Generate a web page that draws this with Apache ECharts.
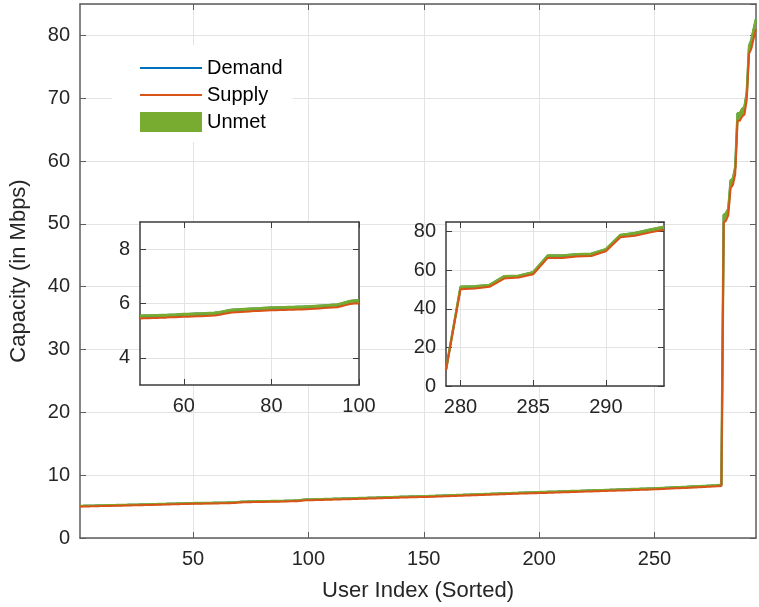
<!DOCTYPE html>
<html><head><meta charset="utf-8">
<script src="https://cdn.jsdelivr.net/npm/echarts@6/dist/echarts.min.js"></script>
<style>html,body{margin:0;padding:0;background:#fff}#c{width:759px;height:607px}</style>
</head><body><div id="c"></div>
<script>
// Demand per user (sorted), users 1..294
const demand = [
5.10,5.11,5.12,5.13,5.13,5.14,5.15,5.16,5.17,5.18,
5.19,5.20,5.20,5.21,5.22,5.23,5.24,5.25,5.25,5.26,
5.27,5.28,5.29,5.30,5.31,5.31,5.32,5.33,5.34,5.35,
5.36,5.37,5.38,5.39,5.40,5.41,5.42,5.43,5.44,5.45,
5.46,5.47,5.48,5.49,5.50,5.51,5.52,5.53,5.54,5.55,
5.56,5.56,5.57,5.57,5.58,5.58,5.59,5.59,5.60,5.61,
5.61,5.62,5.63,5.63,5.64,5.65,5.66,5.68,5.71,5.74,
5.77,5.78,5.79,5.80,5.81,5.82,5.82,5.83,5.84,5.85,
5.85,5.86,5.86,5.87,5.87,5.88,5.88,5.89,5.90,5.91,
5.92,5.93,5.94,5.95,5.96,6.00,6.05,6.09,6.11,6.12,
6.13,6.14,6.15,6.16,6.17,6.18,6.19,6.20,6.21,6.22,
6.23,6.24,6.25,6.26,6.27,6.28,6.29,6.30,6.31,6.33,
6.34,6.35,6.36,6.37,6.38,6.39,6.40,6.41,6.42,6.44,
6.45,6.46,6.47,6.48,6.49,6.50,6.51,6.53,6.54,6.55,
6.56,6.57,6.58,6.59,6.60,6.61,6.62,6.63,6.64,6.65,
6.66,6.67,6.69,6.70,6.71,6.73,6.74,6.75,6.77,6.78,
6.79,6.81,6.82,6.83,6.85,6.86,6.87,6.89,6.90,6.91,
6.93,6.94,6.95,6.97,6.98,6.99,7.01,7.02,7.03,7.05,
7.06,7.07,7.09,7.10,7.11,7.13,7.14,7.15,7.17,7.18,
7.19,7.21,7.22,7.23,7.24,7.25,7.26,7.27,7.28,7.30,
7.31,7.32,7.33,7.35,7.36,7.37,7.38,7.39,7.41,7.42,
7.43,7.44,7.45,7.47,7.48,7.49,7.50,7.51,7.53,7.54,
7.55,7.56,7.57,7.59,7.60,7.61,7.62,7.63,7.65,7.66,
7.67,7.68,7.69,7.71,7.72,7.73,7.74,7.75,7.77,7.78,
7.79,7.80,7.81,7.83,7.84,7.85,7.86,7.87,7.89,7.90,
7.92,7.93,7.95,7.97,7.99,8.00,8.02,8.04,8.06,8.07,
8.09,8.11,8.13,8.14,8.16,8.18,8.20,8.22,8.23,8.25,
8.27,8.29,8.31,8.33,8.35,8.37,8.39,8.42,8.45,
51.4,51.7,52.4,56.9,57.2,59.0,67.6,67.6,68.3,68.6,70.9,78.3,79.3,81.0,82.6
];
// Supply per user (sorted), users 1..294
const supply = [
5.00,5.01,5.02,5.03,5.03,5.04,5.05,5.06,5.07,5.08,
5.09,5.10,5.10,5.11,5.12,5.13,5.14,5.15,5.15,5.16,
5.17,5.18,5.19,5.20,5.21,5.21,5.22,5.23,5.24,5.25,
5.26,5.27,5.28,5.29,5.30,5.31,5.32,5.33,5.34,5.35,
5.36,5.37,5.38,5.39,5.40,5.41,5.42,5.43,5.44,5.45,
5.46,5.46,5.47,5.47,5.48,5.48,5.49,5.49,5.50,5.51,
5.51,5.52,5.53,5.53,5.54,5.55,5.56,5.58,5.61,5.64,
5.67,5.68,5.69,5.70,5.71,5.72,5.72,5.73,5.74,5.75,
5.75,5.76,5.76,5.77,5.77,5.78,5.78,5.79,5.80,5.81,
5.82,5.83,5.84,5.85,5.86,5.90,5.94,5.98,6.00,6.00,
6.01,6.02,6.03,6.04,6.05,6.06,6.07,6.08,6.09,6.10,
6.11,6.12,6.13,6.14,6.15,6.16,6.17,6.18,6.19,6.21,
6.22,6.23,6.24,6.25,6.26,6.27,6.28,6.29,6.30,6.32,
6.33,6.34,6.35,6.36,6.37,6.38,6.39,6.41,6.42,6.43,
6.44,6.45,6.46,6.47,6.48,6.49,6.50,6.51,6.52,6.53,
6.53,6.54,6.56,6.57,6.58,6.60,6.61,6.62,6.64,6.65,
6.66,6.68,6.69,6.70,6.72,6.73,6.74,6.76,6.77,6.78,
6.80,6.81,6.82,6.84,6.85,6.86,6.88,6.89,6.90,6.92,
6.92,6.93,6.95,6.96,6.97,6.99,7.00,7.01,7.03,7.04,
7.05,7.07,7.08,7.09,7.10,7.11,7.12,7.13,7.14,7.16,
7.16,7.17,7.18,7.20,7.21,7.22,7.23,7.24,7.26,7.27,
7.28,7.29,7.30,7.32,7.33,7.34,7.35,7.36,7.38,7.39,
7.40,7.41,7.42,7.44,7.45,7.46,7.47,7.48,7.50,7.51,
7.51,7.52,7.53,7.55,7.56,7.57,7.58,7.59,7.61,7.62,
7.63,7.64,7.65,7.67,7.68,7.69,7.70,7.71,7.73,7.74,
7.76,7.77,7.79,7.81,7.83,7.84,7.86,7.88,7.90,7.91,
7.92,7.94,7.96,7.97,7.99,8.01,8.03,8.05,8.06,8.08,
8.10,8.12,8.14,8.16,8.18,8.20,8.22,8.25,8.28,
50.2,50.5,51.4,55.7,56.2,57.9,66.4,66.4,67.1,67.4,69.8,77.1,77.9,79.5,81.0
];

const mainXTicks = [50, 100, 150, 200, 250];
const mainYRange = [0, 85];
const mainYStep = 10;
const inset1XRange = [50, 100];
const inset1XTicks = [60, 80, 100];
const inset1YRange = [3, 9];
const inset1YTicks = [4, 6, 8];
const inset2XRange = [279, 294];
const inset2XTicks = [280, 285, 290];
const inset2YRange = [0, 85];
const inset2YStep = 20;

const FONT = "'Liberation Sans', Arial, Helvetica, sans-serif";
const TXT = '#262626';
const GRIDC = '#e3e3e3';
const C_DEM = '#0072BD', C_SUP = '#D95319', C_UNM = '#77AC30';
const LINE_ICON = 'path://M0,0 L0.01,0 M0,9 L62,9 L62,11 L0,11 Z M62,20 L61.99,20';

function cats(a, b) { const r = []; for (let i = a; i <= b; i++) r.push(String(i)); return r; }
function slice(arr, a, b) { return arr.slice(a - 1, b); }

function xAxisPair(gi, range, ticks, boxColor, z, withName) {
  const data = cats(range[0], range[1]);
  const f = (i, v) => ticks.indexOf(Number(v)) >= 0;
  const base = {
    type: 'category', gridIndex: gi, data: data, boundaryGap: false, z: z,
    axisLine: { onZero: false, lineStyle: { color: boxColor, width: 1.5 } },
    axisTick: { inside: true, length: 6, interval: f, lineStyle: { color: boxColor, width: 1 } }
  };
  const bottom = Object.assign({}, base, {
    position: 'bottom',
    axisLabel: { interval: f, color: TXT, fontSize: 20, fontFamily: FONT, margin: 11 },
    splitLine: { show: true, interval: f, lineStyle: { color: GRIDC, width: 1 } }
  });
  if (withName) {
    Object.assign(bottom, { name: 'User Index (Sorted)', nameLocation: 'middle', nameGap: 42,
      nameTextStyle: { fontSize: 22, color: TXT, fontFamily: FONT } });
  }
  const top = Object.assign({}, base, {
    position: 'top', axisLabel: { show: false }, splitLine: { show: false }
  });
  return [bottom, top];
}

function yAxisPair(gi, range, step, custom, boxColor, z, withName) {
  const base = {
    type: 'value', gridIndex: gi, min: range[0], max: range[1], z: z,
    axisLine: { show: true, onZero: false, lineStyle: { color: boxColor, width: 1.5 } },
    axisTick: { show: true, inside: true, length: 6, lineStyle: { color: boxColor, width: 1 } }
  };
  if (step) base.interval = step;
  if (custom) base.axisTick.customValues = custom;
  const left = Object.assign({}, base, {
    position: 'left',
    axisLabel: { color: TXT, fontSize: 20, fontFamily: FONT, margin: 10 },
    splitLine: { show: true, lineStyle: { color: GRIDC, width: 1 } }
  });
  if (custom) left.axisLabel.customValues = custom;
  else left.axisLabel.showMaxLabel = false;
  if (withName) {
    Object.assign(left, { name: 'Capacity (in Mbps)', nameLocation: 'middle', nameGap: 50,
      nameTextStyle: { fontSize: 22, color: TXT, fontFamily: FONT } });
  }
  const right = Object.assign({}, base, {
    position: 'right', axisLabel: { show: false }, splitLine: { show: false }
  });
  return [left, right];
}

function seriesFor(gi, xIdx, yIdx, range, z) {
  const d = slice(demand, range[0], range[1]);
  const s = slice(supply, range[0], range[1]);
  const gap = d.map((v, i) => v - s[i]);
  const common = { type: 'line', xAxisIndex: xIdx, yAxisIndex: yIdx, symbol: 'none',
    showSymbol: false, silent: true, z: z, animation: false };
  return [
    Object.assign({}, common, { name: 'Demand', data: d,
      lineStyle: { color: C_DEM, width: 2 }, itemStyle: { color: C_DEM } }),
    Object.assign({}, common, { name: '_base' + gi, stack: 'st' + gi, data: s,
      lineStyle: { width: 0, opacity: 0 }, itemStyle: { color: 'rgba(0,0,0,0)' } }),
    Object.assign({}, common, { name: 'Unmet', stack: 'st' + gi, data: gap,
      lineStyle: { color: C_UNM, width: 2.5 }, itemStyle: { color: C_UNM },
      areaStyle: { color: C_UNM, opacity: 1 } }),
    Object.assign({}, common, { name: 'Supply', data: s,
      lineStyle: { color: C_SUP, width: 2 }, itemStyle: { color: C_SUP } })
  ];
}

const N = demand.length;
const mainRange = [1, N];

const xAxes = [].concat(
  xAxisPair(0, mainRange, mainXTicks, '#5c5c5c', 0, true),
  xAxisPair(1, inset1XRange, inset1XTicks, '#3c3c3c', 4, false),
  xAxisPair(2, inset2XRange, inset2XTicks, '#3c3c3c', 4, false)
);
const yAxes = [].concat(
  yAxisPair(0, mainYRange, mainYStep, null, '#5c5c5c', 0, true),
  yAxisPair(1, inset1YRange, null, inset1YTicks, '#3c3c3c', 4, false),
  yAxisPair(2, inset2YRange, inset2YStep, null, '#3c3c3c', 4, false)
);

const series = [].concat(
  seriesFor(0, 0, 0, mainRange, 2),
  seriesFor(1, 2, 2, inset1XRange, 6),
  seriesFor(2, 4, 4, inset2XRange, 6)
);

const chart = echarts.init(document.getElementById('c'), null, { renderer: 'canvas' });
chart.setOption({
  animation: false,
  backgroundColor: '#fff',
  textStyle: { fontFamily: FONT },
  grid: [
    { left: 79, top: 4, width: 677, height: 535, containLabel: false, show: false },
    { left: 140, top: 222, width: 219, height: 163, show: true, backgroundColor: '#fff', borderWidth: 0, z: 3 },
    { left: 446, top: 222, width: 218, height: 164, show: true, backgroundColor: '#fff', borderWidth: 0, z: 3 }
  ],
  legend: {
    orient: 'vertical', left: 112, top: 45, padding: [13, 10, 10, 28],
    backgroundColor: '#fff', borderWidth: 0, itemWidth: 62, itemHeight: 20, itemGap: 7,
    textStyle: { fontSize: 20, color: '#000', fontFamily: FONT },
    selectedMode: false, z: 10,
    data: [
      { name: 'Demand', icon: LINE_ICON, itemStyle: { color: C_DEM, borderWidth: 0 } },
      { name: 'Supply', icon: LINE_ICON, itemStyle: { color: C_SUP, borderWidth: 0 } },
      { name: 'Unmet', icon: 'rect', itemStyle: { color: C_UNM, borderWidth: 0 } }
    ]
  },
  xAxis: xAxes,
  yAxis: yAxes,
  series: series
});
</script></body></html>
